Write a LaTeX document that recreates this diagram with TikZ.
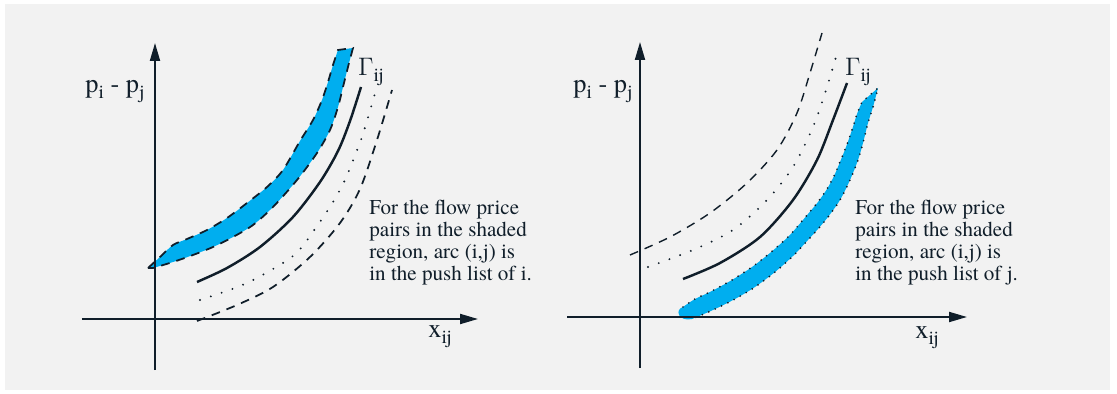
\documentclass[tikz,border=0pt]{standalone}
\usepackage{fontspec}
\setmainfont{texgyretermes}[Extension=.otf, UprightFont=*-regular, BoldFont=*-bold, ItalicFont=*-italic, BoldItalicFont=*-bolditalic]
\usetikzlibrary{arrows.meta}

\definecolor{ink}{RGB}{16,30,42}
\definecolor{cyanfill}{RGB}{0,174,239}
\definecolor{panel}{RGB}{242,242,242}
\newcommand{\lowsub}[1]{\raisebox{-0.5ex}{\fontsize{11}{11}\selectfont #1}}

\tikzset{
	axis/.style={line width=1.1pt, ink, -{Triangle[length=0.36cm,width=0.2cm]}},
	gammacurve/.style={line width=1.4pt, ink},
	dotcurve/.style={line width=1.2pt, ink, dash pattern=on 0pt off 6.5pt, line cap=round},
	dashcurve/.style={line width=1pt, ink, dash pattern=on 5pt off 4pt},
	bandline/.style={line width=1.1pt, ink, dash pattern=on 0pt off 4pt, line cap=round},
	label/.style={font=\fontsize{15}{15}\selectfont, text=ink, inner sep=0pt},
	note/.style={font=\fontsize{12}{12.5}\selectfont, text=ink, align=left, inner sep=0pt, anchor=north west},
}

\begin{document}
\begin{tikzpicture}
	\useasboundingbox (-3.10,-1.50) rectangle (19.24,6.38);
	\fill[panel] (-3.00,-1.42) rectangle (19.10,6.30);

	% left: shaded region above Gamma
	\begin{scope}
		\draw[dashcurve, fill=cyanfill] plot[smooth] coordinates {(-0.14,1.02) (0.10,1.24) (0.36,1.48) (0.64,1.60) (1.04,1.78) (1.44,2.02) (1.84,2.32) (2.24,2.64) (2.56,2.98) (2.90,3.56) (3.16,3.98) (3.34,4.38) (3.46,4.74) (3.56,5.08) (3.66,5.38)}
			-- plot[smooth] coordinates {(3.96,5.42) (3.86,5.04) (3.76,4.64) (3.66,4.24) (3.50,3.78) (3.24,3.32) (2.84,2.78) (2.36,2.24) (1.96,1.88) (1.56,1.64) (1.16,1.44) (0.76,1.28) (0.36,1.14) (-0.04,1.02)} -- cycle;
		\draw[axis] (-1.46,0) -- (6.46,0);
		\draw[axis] (0,-1.02) -- (0,5.52);
		\draw[gammacurve] plot[smooth] coordinates {(0.84,0.74) (1.44,1.02) (2.10,1.44) (2.76,2.04) (3.30,2.74) (3.66,3.36) (3.90,3.96) (4.12,4.64)};
		\draw[dotcurve] plot[smooth] coordinates {(0.90,0.38) (1.84,0.72) (2.76,1.26) (3.20,1.80) (3.56,2.34) (3.80,2.78) (3.98,3.22) (4.14,3.64) (4.28,4.10) (4.42,4.58)};
		\draw[dashcurve] plot[smooth] coordinates {(0.84,-0.04) (1.64,0.28) (2.36,0.64) (3.10,1.24) (3.70,1.92) (4.10,2.60) (4.44,3.58) (4.74,4.58)};
		\node[label] (yaxL) at (-0.80,4.54) {p\lowsub{i} - p\lowsub{j}};
		\node[label] (xaxL) at (5.70,-0.36) {x\lowsub{ij}};
		\node[label] (gamL) at (4.32,4.94) {$\Gamma$\lowsub{ij}};
		\node[note] (noteL) at (4.28,2.38) {For the flow price\\pairs in the shaded\\region, arc (i,j) is\\in the push list of i.};
	\end{scope}

	% right: shaded region below Gamma
	\begin{scope}[xshift=9.70cm, yshift=0.04cm]
		\fill[cyanfill] plot[smooth] coordinates {(0.86,0.20) (1.10,0.36) (1.40,0.50) (1.84,0.74) (2.24,1.00) (2.60,1.28) (2.96,1.60) (3.14,1.80) (3.36,2.06) (3.56,2.30) (3.74,2.56) (3.88,2.82) (4.00,3.10) (4.12,3.40) (4.24,3.74) (4.34,4.06) (4.44,4.30)}
			-- (4.76,4.58)
			-- plot[smooth] coordinates {(4.76,4.58) (4.66,4.20) (4.56,3.88) (4.46,3.48) (4.36,3.14) (4.20,2.74) (4.00,2.34) (3.76,2.00) (3.56,1.76) (3.36,1.54) (3.06,1.22) (2.70,0.90) (2.30,0.60) (1.90,0.36) (1.46,0.14) (1.04,-0.04)}
			.. controls (0.78,-0.10) and (0.68,0.14) .. (0.86,0.20) -- cycle;
		\draw[bandline] plot[smooth] coordinates {(0.86,0.20) (1.10,0.36) (1.40,0.50) (1.84,0.74) (2.24,1.00) (2.60,1.28) (2.96,1.60) (3.14,1.80) (3.36,2.06) (3.56,2.30) (3.74,2.56) (3.88,2.82) (4.00,3.10) (4.12,3.40) (4.24,3.74) (4.34,4.06) (4.44,4.30)}
			-- (4.76,4.58)
			-- plot[smooth] coordinates {(4.76,4.58) (4.66,4.20) (4.56,3.88) (4.46,3.48) (4.36,3.14) (4.20,2.74) (4.00,2.34) (3.76,2.00) (3.56,1.76) (3.36,1.54) (3.06,1.22) (2.70,0.90) (2.30,0.60) (1.90,0.36) (1.46,0.14) (1.04,-0.04)};
		\draw[axis] (-1.46,0) -- (6.54,0);
		\draw[axis] (0,-1.02) -- (0,5.50);
		\draw[gammacurve] plot[smooth] coordinates {(0.86,0.76) (1.60,1.08) (2.40,1.60) (3.06,2.34) (3.54,3.14) (3.86,3.94) (4.14,4.68)};
		\draw[dotcurve] plot[smooth] coordinates {(0.16,1.00) (1.06,1.34) (1.86,1.74) (2.54,2.34) (3.06,3.00) (3.46,3.80) (3.74,4.60) (3.96,5.34)};
		\draw[dashcurve, line width=0.8pt] plot[smooth] coordinates {(-0.20,1.24) (0.60,1.60) (1.40,2.08) (2.14,2.68) (2.74,3.34) (3.14,4.08) (3.40,4.88) (3.64,5.68)};
		\node[label] (yaxR) at (-0.74,4.50) {p\lowsub{i} - p\lowsub{j}};
		\node[label] (xaxR) at (5.74,-0.42) {x\lowsub{ij}};
		\node[label] (gamR) at (4.36,4.90) {$\Gamma$\lowsub{ij}};
		\node[note] (noteR) at (4.30,2.34) {For the flow price\\pairs in the shaded\\region, arc (i,j) is\\in the push list of j.};
	\end{scope}
\end{tikzpicture}
\end{document}
